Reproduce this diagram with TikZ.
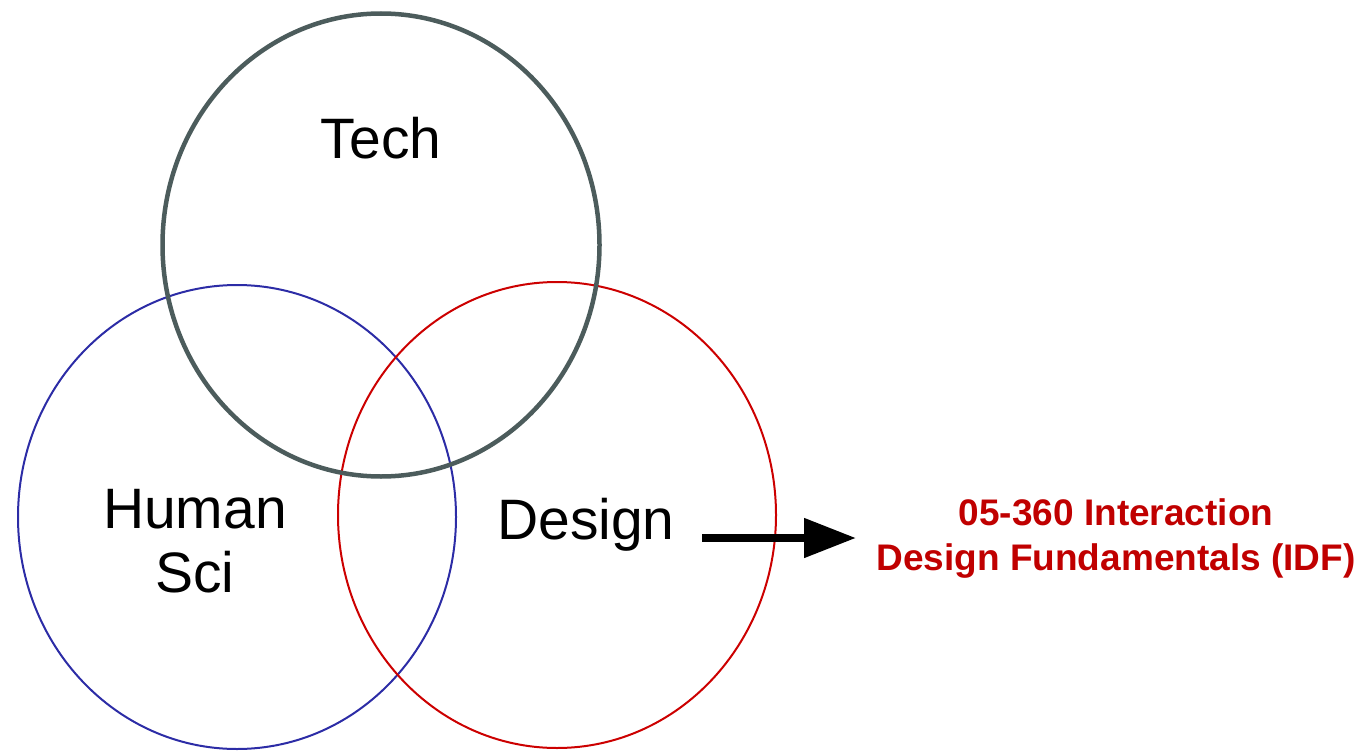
\documentclass[tikz,border=0pt]{standalone}
\usepackage{fontspec}
\setmainfont{Liberation Sans}
\usetikzlibrary{arrows.meta}
\definecolor{techgray}{RGB}{76,92,92}
\definecolor{humblue}{RGB}{44,44,166}
\definecolor{desred}{RGB}{204,0,0}
\definecolor{idfred}{RGB}{192,0,0}
\tikzset{
  bigtext/.style={font=\fontsize{57}{64}\selectfont, text=black, inner sep=0pt},
  idftext/.style={font=\fontsize{37}{45}\selectfont\bfseries, text=idfred, align=center, inner sep=0pt},
  bigarrow/.style={line width=8pt, -{Triangle[length=52pt,width=38pt]}, black}
}
\begin{document}
\begin{tikzpicture}[x=1pt,y=-1pt]
\useasboundingbox (0,0) rectangle (1363,752);
\draw[humblue, line width=2pt] (237,517) ellipse [x radius=219, y radius=232];
\draw[desred, line width=2pt] (557,515) ellipse [x radius=219, y radius=233];
\draw[techgray, line width=4.5pt] (381,245) ellipse [x radius=218.5, y radius=231.5];
\node[bigtext] (tech) at (381,138) {Tech};
\node[bigtext, align=center] (human) at (195,541) {Human\\Sci};
\node[bigtext] (design) at (586,525) {Design};
\node[idftext] (idf) at (1116,539) {05-360 Interaction\\Design Fundamentals (IDF)};
\coordinate (astart) at (702,538);
\coordinate (aend) at (856,538);
\draw[bigarrow] (astart) -- (aend);
\end{tikzpicture}
\end{document}
